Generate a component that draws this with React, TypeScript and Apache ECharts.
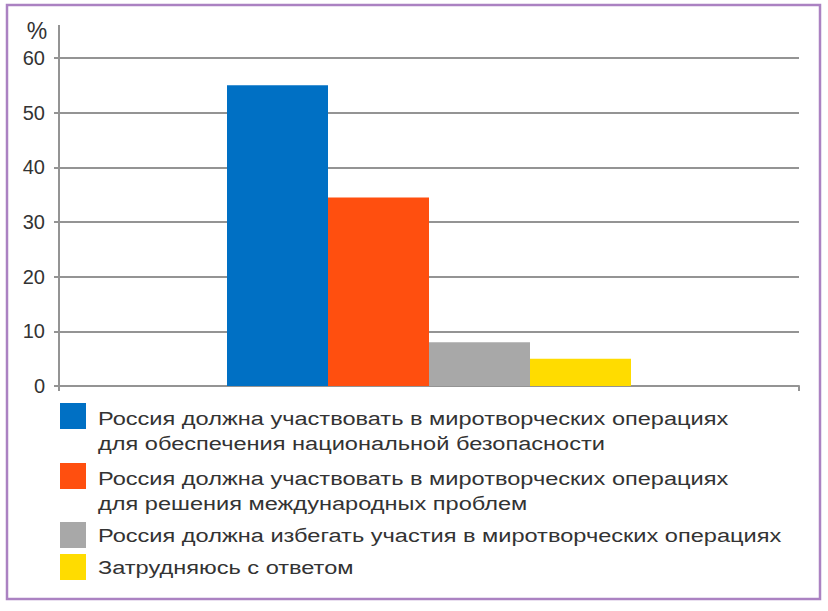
import React, { useEffect, useRef } from "react";
import * as echarts from "echarts";

const categories = [""];
const seriesNames = [
  "Россия должна участвовать в миротворческих операциях\nдля обеспечения национальной безопасности",
  "Россия должна участвовать в миротворческих операциях\nдля решения международных проблем",
  "Россия должна избегать участия в миротворческих операциях",
  "Затрудняюсь с ответом",
];
const seriesValues = [55, 34.5, 8, 5];
const seriesColors = ["#0070c4", "#ff4f0f", "#a8a8a8", "#ffdc00"];
const yMin = 0;
const yMax = 60;
const yInterval = 10;
const unitLabel = "%";

const FONT = "'Liberation Sans', Arial, sans-serif";
const TEXT = "#333333";
const GRID = "#949494";

export default function App() {
  const ref = useRef<HTMLDivElement>(null);
  useEffect(() => {
    if (!ref.current) return;
    const chart = echarts.init(ref.current, null, { renderer: "svg" });

    const legendTextTops = [406, 466, 523, 555];
    const legendIconTops = [403, 463, 522, 554];

    const legendGraphics: any[] = [];
    seriesNames.forEach((name, i) => {
      legendGraphics.push({
        type: "rect",
        shape: { x: 60, y: legendIconTops[i], width: 26, height: 26 },
        style: { fill: seriesColors[i] },
        silent: true,
      });
      legendGraphics.push({
        type: "text",
        x: 98,
        y: legendTextTops[i],
        scaleX: 1.31,
        style: {
          text: name,
          fill: TEXT,
          fontSize: 18,
          fontFamily: FONT,
          lineHeight: 25,
          verticalAlign: "top",
          align: "left",
        },
        silent: true,
      });
    });

    chart.setOption({
      animation: false,
      backgroundColor: "#ffffff",
      grid: { left: 59, right: 29, top: 58, bottom: 225 },
      xAxis: {
        type: "category",
        data: categories,
        axisLine: { show: true, lineStyle: { color: GRID, width: 2 } },
        axisTick: { show: true, length: 5, lineStyle: { color: GRID, width: 2 } },
        axisLabel: { show: false },
      },
      yAxis: {
        type: "value",
        min: yMin,
        max: yMax,
        interval: yInterval,
        axisLine: { show: true, lineStyle: { color: GRID, width: 2 } },
        axisTick: { show: true, length: 5, lineStyle: { color: GRID, width: 2 } },
        splitLine: { show: true, lineStyle: { color: GRID, width: 2 } },
        axisLabel: { fontSize: 20, color: TEXT, fontFamily: FONT, margin: 14 },
      },
      series: seriesNames.map((name, i) => ({
        type: "bar",
        name,
        data: [seriesValues[i]],
        barWidth: 101,
        barGap: "0%",
        itemStyle: { color: seriesColors[i] },
      })),
      graphic: [
        {
          type: "rect",
          shape: { x: 7, y: 5, width: 813, height: 594 },
          style: { fill: "none", stroke: "#ab82c2", lineWidth: 2.5 },
          silent: true,
        },
        {
          type: "line",
          shape: { x1: 59, y1: 25, x2: 59, y2: 58 },
          style: { stroke: GRID, lineWidth: 2 },
          silent: true,
        },
        {
          type: "text",
          x: 37,
          y: 31,
          style: {
            text: unitLabel,
            fill: TEXT,
            fontSize: 23,
            fontFamily: FONT,
            align: "center",
            verticalAlign: "middle",
          },
          silent: true,
        },
        ...legendGraphics,
      ],
    });
    return () => chart.dispose();
  }, []);
  return (
    <div
      ref={ref}
      style={{ position: "absolute", left: 0, top: 0, width: 828, height: 611 }}
    />
  );
}
